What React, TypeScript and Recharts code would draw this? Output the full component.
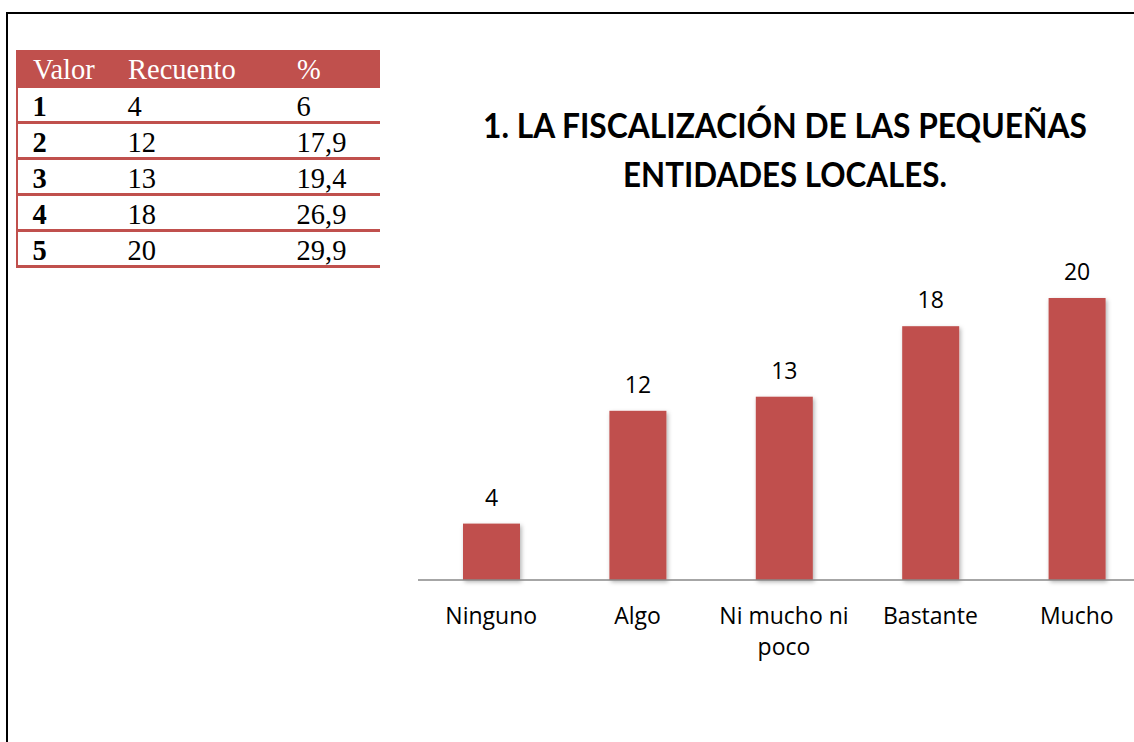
import React from 'react';
import { BarChart, Bar, XAxis, YAxis, LabelList } from 'recharts';

// datos de la encuesta
const categories = ['Ninguno', 'Algo', 'Ni mucho ni poco', 'Bastante', 'Mucho'];
const counts = [4, 12, 13, 18, 20];

// tabla de frecuencias
const tableHeader = ['Valor', 'Recuento', '%'];
const tableValues = ['1', '2', '3', '4', '5'];
const tableCounts = ['4', '12', '13', '18', '20'];
const tablePercents = ['6', '17,9', '19,4', '26,9', '29,9'];

const titleLines = ['1. LA FISCALIZACIÓN DE LAS PEQUEÑAS', 'ENTIDADES LOCALES.'];
const titleWidths = [605, 324];

const RED = '#C0504D';
const LABEL_FONT = "'Open Sans', sans-serif";
const LABEL_SIZE = 23;
const TITLE_FONT = 'Lato, sans-serif';
const TITLE_SIZE = 35;

const chartData = categories.map((name, i) => ({ name, value: counts[i] }));

let measureCtx: CanvasRenderingContext2D | null = null;
const textWidth = (text: string, font: string) => {
    if (!measureCtx) {
        measureCtx = document.createElement('canvas').getContext('2d');
    }
    measureCtx!.font = font;
    return measureCtx!.measureText(text).width;
};

// partir la etiqueta en lineas segun el ancho disponible
const wrapLabel = (label: string, maxWidth: number) => {
    const font = `${LABEL_SIZE}px ${LABEL_FONT}`;
    const words = label.split(' ');
    const lines: string[] = [];
    let current = '';
    words.forEach(w => {
        const test = current ? `${current} ${w}` : w;
        if (current && textWidth(test, font) > maxWidth) {
            lines.push(current);
            current = w;
        } else {
            current = test;
        }
    });
    if (current) lines.push(current);
    return lines;
};

const CategoryTick = (props: any) => {
    const { x, y, payload } = props;
    const lines = wrapLabel(String(payload.value), 140);
    return (
        <text x={x} y={y + 36} textAnchor="middle" fontSize={LABEL_SIZE} fontFamily={LABEL_FONT} fill="#000">
            {lines.map((line, i) => (
                <tspan key={i} x={x} dy={i === 0 ? 0 : 31}>{line}</tspan>
            ))}
        </text>
    );
};

const ShadowBar = (props: any) => {
    const { x, y, width, height } = props;
    return <rect x={x} y={y} width={width} height={height} fill={RED} filter="url(#barShadow)" />;
};

const colX = [33, 128, 297];

const FreqTable = () => (
    <div style={{ position: 'absolute', left: 16, top: 50, width: 364, fontFamily: "'Liberation Serif', 'Times New Roman', serif", fontSize: 28.5 }}>
        <div style={{ position: 'relative', height: 38, background: RED, color: '#fff' }}>
            {tableHeader.map((h, i) => (
                <span key={h} style={{ position: 'absolute', left: colX[i] - 16, top: 0, lineHeight: '40px' }}>{h}</span>
            ))}
        </div>
        {tableValues.map((v, r) => (
            <div key={v} style={{ position: 'relative', height: 33, borderBottom: `3px solid ${RED}`, borderLeft: `2.5px solid ${RED}` }}>
                {[v, tableCounts[r], tablePercents[r]].map((cell, i) => (
                    <span
                        key={i}
                        style={{ position: 'absolute', left: colX[i] - 18.5, top: 0, lineHeight: '38px', fontWeight: i === 0 ? 'bold' : 'normal', color: '#000' }}
                    >
                        {cell}
                    </span>
                ))}
            </div>
        ))}
    </div>
);

// titulo estrecho, como Calibri
const Title = () => {
    const font = `bold ${TITLE_SIZE}px ${TITLE_FONT}`;
    const baselines = [138, 187];
    return (
        <svg style={{ position: 'absolute', left: 0, top: 0 }} width={1134} height={220}>
            {titleLines.map((line, i) => {
                const natural = textWidth(line, font) || titleWidths[i];
                const sx = Math.min(1, titleWidths[i] / natural);
                return (
                    <text
                        key={i}
                        transform={`translate(785,${baselines[i]}) scale(${sx},1)`}
                        textAnchor="middle"
                        fontFamily={TITLE_FONT}
                        fontWeight="bold"
                        fontSize={TITLE_SIZE}
                        fill="#000"
                    >
                        {line}
                    </text>
                );
            })}
        </svg>
    );
};

export default function App() {
    return (
        <div style={{ position: 'absolute', left: 0, top: 0, width: 1134, height: 742, overflow: 'hidden', background: '#fff' }}>
            <div style={{ position: 'absolute', left: 6, top: 12, width: 1200, height: 800, border: '2px solid #000' }} />
            <div style={{ position: 'absolute', left: 0, top: 0 }}>
                <BarChart width={1160} height={742} data={chartData} margin={{ top: 298, right: 10, left: 418, bottom: 82 }}>
                    <defs>
                        <filter id="barShadow" x="-20%" y="-10%" width="140%" height="130%">
                            <feDropShadow dx={1.5} dy={2} stdDeviation={2} floodColor="#000" floodOpacity={0.3} />
                        </filter>
                    </defs>
                    <YAxis hide domain={[0, 20]} />
                    <XAxis
                        dataKey="name"
                        height={80}
                        interval={0}
                        tickLine={false}
                        axisLine={{ stroke: '#898989', strokeWidth: 1.5 }}
                        tick={<CategoryTick />}
                    />
                    <Bar dataKey="value" barSize={57} shape={<ShadowBar />} isAnimationActive={false}>
                        <LabelList dataKey="value" position="top" offset={18} fontSize={LABEL_SIZE} fontFamily={LABEL_FONT} fill="#000" />
                    </Bar>
                </BarChart>
            </div>
            <FreqTable />
            <Title />
        </div>
    );
}
